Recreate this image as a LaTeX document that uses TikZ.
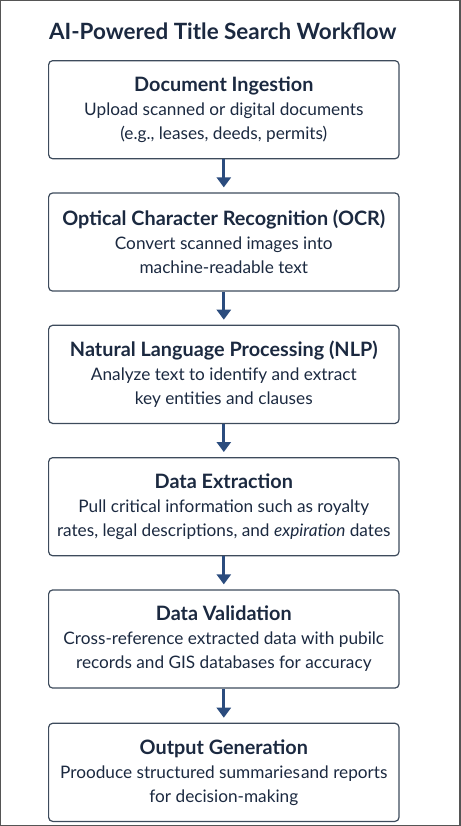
\documentclass[tikz,border=0pt]{standalone}
\usepackage{fontspec}
\setmainfont{Lato}
\usetikzlibrary{arrows.meta,positioning}
\definecolor{navy}{HTML}{1B2940}
\definecolor{boxline}{HTML}{3D4B5C}
\definecolor{arrowblue}{HTML}{2B4C7E}
\definecolor{frameline}{HTML}{555555}
\newcommand{\headfont}{\fontsize{19.8}{22}\selectfont\bfseries}

\begin{document}
\begin{tikzpicture}[x=1pt,y=1pt]
\tikzstyle{stepbox}=[draw=boxline,line width=1.2pt,rounded corners=4pt,minimum width=350pt,minimum height=98pt,align=center,text=navy,font=\fontsize{17.2}{22}\selectfont,inner sep=0pt]
\tikzstyle{flow}=[draw=arrowblue,line width=3pt,-{Triangle[width=14pt,length=10pt]},shorten >=5pt]
\draw [frameline,line width=1.2pt] (1,-1) rectangle (460,-825);
\node [text=navy,font=\fontsize{22.4}{25}\selectfont\bfseries] (title) at (223,-32) {AI-Powered Title Search Workflow};
\node [stepbox] (ingest) at (224,-110) {{\headfont Document Ingestion}\\[2pt]
Upload scanned or digital documents\\[2pt](e.g., leases, deeds, permits)};
\node [stepbox,below=33pt of ingest] (ocr) {{\headfont Optical Character Recognition (OCR)}\\[2pt]
Convert scanned images into\\[2pt]machine-readable text};
\node [stepbox,below=33pt of ocr] (nlp) {{\headfont Natural Language Processing (NLP)}\\[2pt]
Analyze text to identify and extract\\[2pt]key entities and clauses};
\node [stepbox,below=33pt of nlp] (extract) {{\headfont Data Extraction}\\[2pt]
Pull critical information such as royalty\\[2pt]rates, legal descriptions, and \textit{expiration} dates};
\node [stepbox,below=33pt of extract] (valid) {{\headfont Data Validation}\\[2pt]
Cross-reference extracted data with pubilc\\[2pt]records and GIS databases for accuracy};
\node [stepbox,below=34pt of valid] (output) {{\headfont Output Generation}\\[2pt]
Prooduce structured summaries\hspace{1pt}and reports\\[2pt]for decision-making};
\draw [flow] (ingest) -- (ocr);
\draw [flow] (ocr) -- (nlp);
\draw [flow] (nlp) -- (extract);
\draw [flow] (extract) -- (valid);
\draw [flow] (valid) -- (output);
\end{tikzpicture}
\end{document}
